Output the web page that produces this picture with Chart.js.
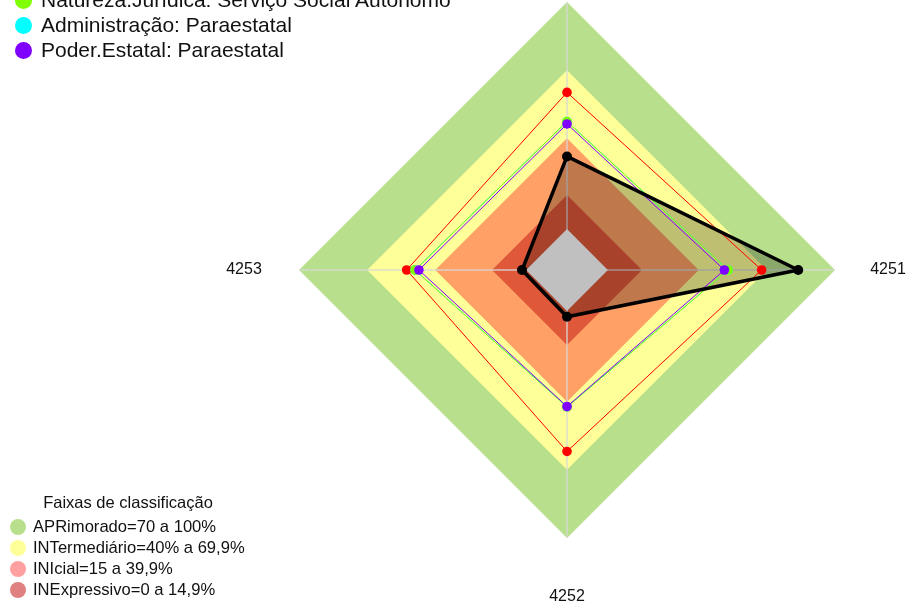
<!DOCTYPE html>
<html>
<head>
<meta charset="utf-8">
<script src="https://cdn.jsdelivr.net/npm/chart.js@4/dist/chart.umd.min.js"></script>
<style>
  html, body { margin: 0; padding: 0; background: #fff; overflow: hidden; }
  #wrap { position: relative; width: 908px; height: 607px; }
  #chart { position: absolute; left: 0; top: 0; }
  .leg { position: absolute; font-family: "Liberation Sans", Arial, sans-serif; color: #111; white-space: nowrap; }
  .leg .row { position: absolute; left: 0; display: flex; align-items: center; }
  .leg .dot { display: inline-block; border-radius: 50%; }
  #topLeg { left: 0; top: 0; font-size: 21px; }
  #topLeg .dot { width: 17px; height: 17px; margin-left: 15px; margin-right: 9px; }
  #botLeg { left: 0; top: 0; font-size: 16.6px; }
  #botLeg .dot { width: 16px; height: 16px; margin-left: 10px; margin-right: 7px; }
  #botTitle { position: absolute; font-family: "Liberation Sans", Arial, sans-serif; font-size: 16.5px; color: #111; left: 128px; top: 502px; transform: translate(-50%, -50%); white-space: nowrap; }
</style>
</head>
<body>
<div id="wrap">
  <canvas id="chart" width="908" height="607"></canvas>
  <div id="topLeg" class="leg"></div>
  <div id="botTitle">Faixas de classificação</div>
  <div id="botLeg" class="leg"></div>
</div>
<script>
// ---- data ----
const categories = ['', '4251', '4252', '4253'];
const faixaAprimorado   = [100, 100, 100, 100];
const faixaIntermediario = [70, 70, 70, 70];
const faixaInicial      = [40, 40, 40, 40];
const faixaInexpressivo = [15, 15, 15, 15];
const faixaCentro       = [0, 0, 0, 0];
const entidade          = [32.0, 83.8, 2.6, 1.8];
const referencia        = [60.2, 67.7, 61.9, 52.6];
const naturezaJuridica  = [47.4, 52.9, 42.3, 48.9];
const administracao     = [47.4, 52.9, 42.3, 48.9];
const poderEstatal      = [46.3, 51.3, 42.1, 47.2];

const topLegendLabels = ['Natureza.Jurídica: Serviço Social Autônomo', 'Administração: Paraestatal', 'Poder.Estatal: Paraestatal'];
const topLegendColors = ['#7FFF00', '#00FFFF', '#8000FF'];
const bandLegendLabels = ['APRimorado=70 a 100%', 'INTermediário=40% a 69,9%', 'INIcial=15 a 39,9%', 'INExpressivo=0 a 14,9%'];
const bandLegendColors = ['#B8E08C', '#FFFF99', '#FFA0A0', '#E08080'];

// ---- legends (HTML) ----
const topLeg = document.getElementById('topLeg');
topLegendLabels.forEach((t, i) => {
  const r = document.createElement('div');
  r.className = 'row';
  r.style.top = (-13 + i * 25) + 'px';
  r.style.height = '26px';
  r.innerHTML = '<span class="dot" style="background:' + topLegendColors[i] + '"></span><span>' + t + '</span>';
  topLeg.appendChild(r);
});
const botLeg = document.getElementById('botLeg');
bandLegendLabels.forEach((t, i) => {
  const r = document.createElement('div');
  r.className = 'row';
  r.style.top = (516 + i * 21) + 'px';
  r.style.height = '21px';
  r.innerHTML = '<span class="dot" style="background:' + bandLegendColors[i] + '"></span><span>' + t + '</span>';
  botLeg.appendChild(r);
});

// ---- plugin: angle lines (under data fill) + axis labels ----
const labelGap = [55, 53, 59, 55];
const extras = {
  id: 'extras',
  afterDatasetDraw(chart, args) {
    if (chart.data.datasets[args.index].id !== 'inexpressivo') return;
    const s = chart.scales.r;
    const ctx = chart.ctx;
    ctx.save();
    ctx.strokeStyle = 'rgba(215,215,215,0.85)';
    ctx.lineWidth = 1.5;
    for (let i = 0; i < categories.length; i++) {
      const p = s.getPointPosition(i, s.drawingArea);
      ctx.beginPath();
      ctx.moveTo(s.xCenter, s.yCenter);
      ctx.lineTo(p.x, p.y);
      ctx.stroke();
    }
    ctx.restore();
  },
  afterDraw(chart) {
    const s = chart.scales.r;
    const ctx = chart.ctx;
    ctx.save();
    ctx.fillStyle = '#111';
    ctx.font = '16px "Liberation Sans", Arial, sans-serif';
    ctx.textAlign = 'center';
    ctx.textBaseline = 'middle';
    for (let i = 0; i < categories.length; i++) {
      const p = s.getPointPosition(i, s.drawingArea + labelGap[i]);
      ctx.fillText(categories[i], p.x, p.y);
    }
    ctx.restore();
  }
};

function band(id, data, color, order) {
  return { id, data, backgroundColor: color, borderWidth: 0, pointRadius: 0, fill: 'start', order };
}
function serie(data, color, order, w, r) {
  return { data, borderColor: color, backgroundColor: color, borderWidth: w, pointRadius: r,
           pointBackgroundColor: color, pointBorderWidth: 0, pointBorderColor: color, fill: false, order };
}

new Chart(document.getElementById('chart'), {
  type: 'radar',
  data: {
    labels: categories,
    datasets: [
      serie(entidade, '#000000', 0, 3.5, 5),
      serie(poderEstatal, '#8000FF', 1, 1, 4.8),
      serie(naturezaJuridica, '#7FFF00', 2, 1, 4.8),
      serie(administracao, '#00FFFF', 3, 1, 4.8),
      serie(referencia, '#FF0000', 4, 1, 4.8),
      band('centro', faixaCentro, '#C0C0C0', 5),
      { id: 'entFill', data: entidade, backgroundColor: 'rgba(0,0,0,0.25)', borderWidth: 0, pointRadius: 0, fill: 'start', order: 6 },
      band('inexpressivo', faixaInexpressivo, '#E0583A', 7),
      band('inicial', faixaInicial, '#FFA066', 8),
      band('intermediario', faixaIntermediario, '#FFFF99', 9),
      band('aprimorado', faixaAprimorado, '#B8E08C', 10)
    ]
  },
  options: {
    responsive: false,
    animation: false,
    elements: { line: { tension: 0 } },
    layout: { padding: { left: 299, right: 73, top: 2, bottom: 69 } },
    plugins: { legend: { display: false }, tooltip: { enabled: false } },
    scales: {
      r: {
        min: -18, max: 100,
        beginAtZero: false,
        ticks: { display: false },
        grid: { display: false },
        angleLines: { display: false },
        pointLabels: { display: false }
      }
    }
  },
  plugins: [extras]
});
</script>
</body>
</html>
